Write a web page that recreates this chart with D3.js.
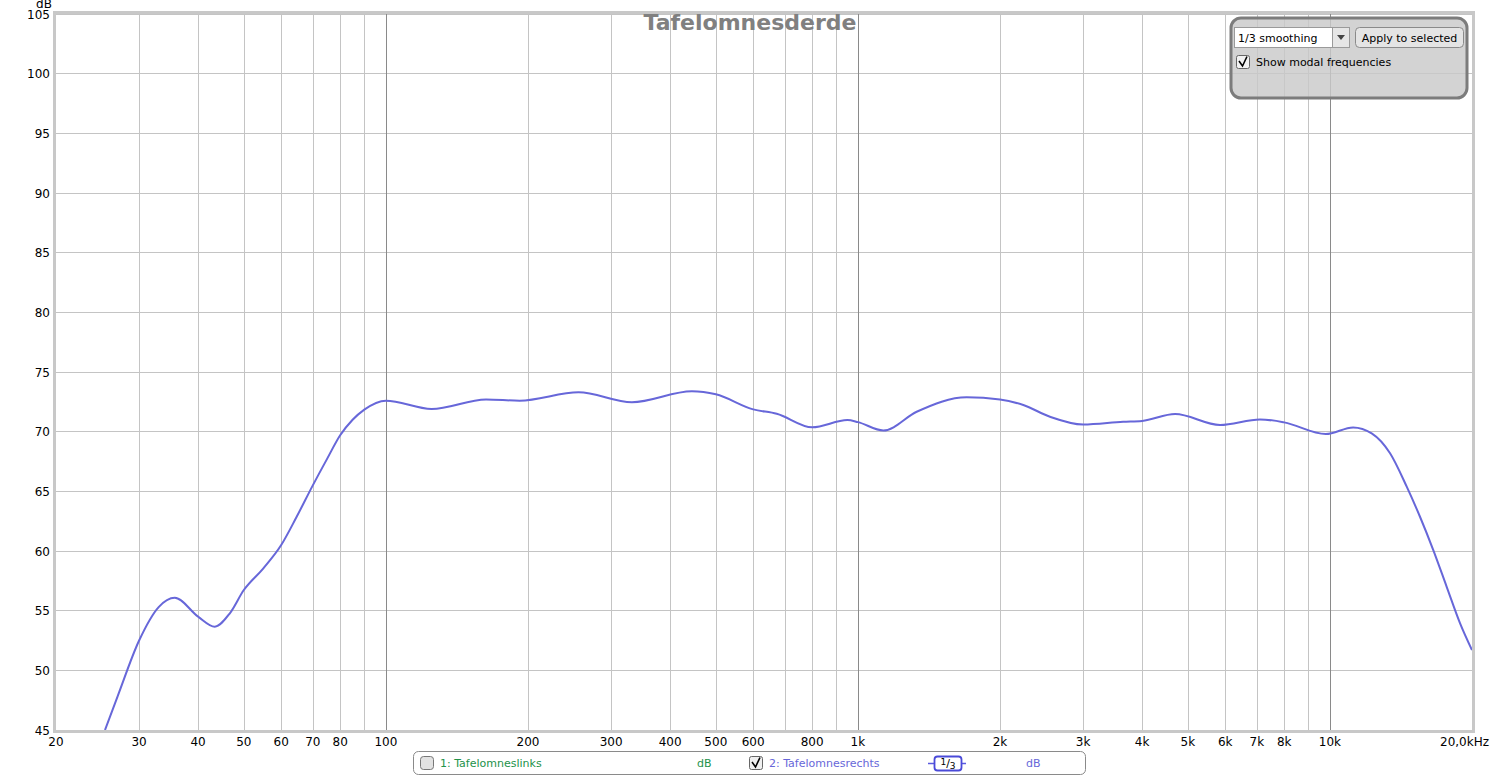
<!DOCTYPE html>
<html><head><meta charset="utf-8">
<script src="https://cdn.jsdelivr.net/npm/d3@7"></script>
<style>
html,body{margin:0;padding:0;background:#fff;}
svg{display:block;font-family:"DejaVu Sans",sans-serif;}
</style></head>
<body>
<svg id="c" width="1500" height="777"></svg>
<script>
// ---- data ----
const freqs = [25.4, 27, 30, 33, 35.7, 40, 43.4, 46.7, 50, 55, 60, 64.7, 70, 75, 80, 85, 90, 100, 125, 163, 192, 256, 332, 445, 500, 600, 673, 800, 950, 1000, 1132, 1332, 1700, 2000, 2241, 2552, 3000, 3648, 4000, 4698, 5850, 7110, 8000, 9800, 11200, 12260, 13410, 14545, 15518, 16558, 17677, 18870, 20000];
const levels = [45.0, 47.8, 52.5, 55.3, 56.08, 54.5, 53.66, 54.78, 56.73, 58.55, 60.5, 62.87, 65.5, 67.7, 69.7, 71.0, 71.85, 72.6, 71.9, 72.7, 72.6, 73.3, 72.46, 73.38, 73.13, 71.87, 71.5, 70.36, 70.97, 70.8, 70.1, 71.67, 72.88, 72.7, 72.23, 71.25, 70.6, 70.83, 70.9, 71.48, 70.56, 71.03, 70.78, 69.8, 70.35, 69.86, 68.19, 65.39, 62.87, 60.08, 57.0, 53.94, 51.7];
const gridFreqs = [30,40,50,60,70,80,90,100,200,300,400,500,600,700,800,900,1000,2000,3000,4000,5000,6000,7000,8000,9000,10000];
const decadeFreqs = [100,1000,10000];
const xTickValues = [20,30,40,50,60,70,80,100,200,300,400,500,600,800,1000,2000,3000,4000,5000,6000,7000,8000,10000,20000];
const xTickLabels = ["20","30","40","50","60","70","80","100","200","300","400","500","600","800","1k","2k","3k","4k","5k","6k","7k","8k","10k","20,0kHz"];
const yTicks = [45,50,55,60,65,70,75,80,85,90,95,100,105];
const title = "Tafelomnesderde";
const series = [
  {name:"1: Tafelomneslinks", unit:"dB", color:"#23924a", checked:false},
  {name:"2: Tafelomnesrechts", unit:"dB", color:"#6767d9", checked:true}
];

// ---- layout ----
const L=56, R=1472, T=14, B=730;
const svg = d3.select("#c");
const x = d3.scaleLog().domain([20,20000]).range([L,R]);
const y = d3.scaleLinear().domain([45,105]).range([B,T]);

// horizontal grid
svg.append("g").selectAll("line").data(yTicks).join("line")
  .attr("x1",L).attr("x2",R).attr("y1",d=>y(d)).attr("y2",d=>y(d))
  .attr("stroke","#c4c4c4").attr("stroke-width",1).attr("shape-rendering","crispEdges");
// vertical grid
svg.append("g").selectAll("line").data(gridFreqs).join("line")
  .attr("x1",d=>Math.round(x(d))+0.5).attr("x2",d=>Math.round(x(d))+0.5).attr("y1",T).attr("y2",B)
  .attr("stroke",d=>decadeFreqs.includes(d)?"#8a8a8a":"#c4c4c4").attr("stroke-width",1);

// title
svg.append("text").attr("x",750).attr("y",30).attr("text-anchor","middle")
  .attr("font-size",22).attr("font-weight","bold").attr("fill","#808080").text(title);

// curve
svg.append("clipPath").attr("id","pc").append("rect")
  .attr("x",L).attr("y",T).attr("width",R-L).attr("height",B-T);
const pts = freqs.map((f,i)=>[f,levels[i]]);
const line = d3.line().x(d=>x(d[0])).y(d=>y(d[1])).curve(d3.curveMonotoneX);
svg.append("path").datum(pts).attr("d",line).attr("fill","none")
  .attr("stroke",series[1].color).attr("stroke-width",2).attr("clip-path","url(#pc)");

// frame
svg.append("rect").attr("x",L-1.5).attr("y",T-1.5).attr("width",R-L+3).attr("height",B-T+3)
  .attr("fill","none").attr("stroke","#c8c8c8").attr("stroke-width",3);

// y axis labels
svg.append("g").selectAll("text").data(yTicks).join("text")
  .attr("x",50).attr("y",d=>y(d)+4.5).attr("text-anchor","end")
  .attr("font-size",12).attr("fill","#000").text(d=>d);
svg.append("text").attr("x",44).attr("y",8).attr("text-anchor","middle")
  .attr("font-size",12).attr("fill","#000").text("dB");

// x axis labels
svg.append("g").selectAll("text").data(xTickValues).join("text")
  .attr("x",(d,i)=> i===xTickValues.length-1 ? 1489 : x(d))
  .attr("y",746)
  .attr("text-anchor",(d,i)=> i===xTickValues.length-1 ? "end" : "middle")
  .attr("font-size",12).attr("fill","#000").text((d,i)=>xTickLabels[i]);

// ---- top-right control panel ----
const p = svg.append("g");
p.append("rect").attr("x",1231).attr("y",18).attr("width",236).attr("height",80).attr("rx",10)
  .attr("fill","#c9c9c9").attr("fill-opacity",0.82).attr("stroke","#7c7c7c").attr("stroke-width",3);
p.append("rect").attr("x",1234.5).attr("y",27.5).attr("width",115).attr("height",20)
  .attr("fill","#fff").attr("stroke","#9a9a9a");
p.append("rect").attr("x",1332.5).attr("y",27.5).attr("width",17).attr("height",20)
  .attr("fill","#e6e6e6").attr("stroke","#9a9a9a");
p.append("path").attr("d","M1337,35 L1345,35 L1341,40 Z").attr("fill","#444");
p.append("text").attr("x",1238).attr("y",41.5).attr("font-size",11).attr("fill","#000").text("1/3 smoothing");
p.append("rect").attr("x",1355.5).attr("y",27.5).attr("width",108).attr("height",20).attr("rx",4)
  .attr("fill","#e4e4e4").attr("stroke","#8a8a8a");
p.append("text").attr("x",1409.5).attr("y",41.5).attr("text-anchor","middle").attr("font-size",11).attr("fill","#000").text("Apply to selected");
p.append("rect").attr("x",1236.5).attr("y",55.5).attr("width",13).attr("height",13).attr("rx",2)
  .attr("fill","#f2f2f2").attr("stroke","#666");
p.append("path").attr("d","M1239,61 L1242.5,66 L1247,56.5").attr("fill","none").attr("stroke","#000").attr("stroke-width",1.6);
p.append("text").attr("x",1256).attr("y",66).attr("font-size",11).attr("fill","#000").text("Show modal frequencies");

// ---- bottom legend ----
const lg = svg.append("g");
lg.append("rect").attr("x",413.5).attr("y",751.5).attr("width",672).attr("height",23).attr("rx",5)
  .attr("fill","#fff").attr("stroke","#8a8a8a");
lg.append("rect").attr("x",420.5).attr("y",756.5).attr("width",13).attr("height",13).attr("rx",3)
  .attr("fill","#e2e2e2").attr("stroke","#777");
lg.append("text").attr("x",440).attr("y",767).attr("font-size",11).attr("fill",series[0].color).text(series[0].name);
lg.append("text").attr("x",697).attr("y",767).attr("font-size",11).attr("fill",series[0].color).text(series[0].unit);
lg.append("rect").attr("x",749.5).attr("y",756.5).attr("width",13).attr("height",13).attr("rx",2)
  .attr("fill","#f0f0f0").attr("stroke","#666");
lg.append("path").attr("d","M752,762 L755.5,767 L760,757.5").attr("fill","none").attr("stroke","#000").attr("stroke-width",1.6);
lg.append("text").attr("x",769).attr("y",767).attr("font-size",11).attr("fill",series[1].color).text(series[1].name);
lg.append("line").attr("x1",928).attr("x2",966).attr("y1",763.5).attr("y2",763.5).attr("stroke","#5a5ae0").attr("stroke-width",1.5);
lg.append("rect").attr("x",934.5).attr("y",756.5).attr("width",27).attr("height",14).attr("rx",3)
  .attr("fill","#fff").attr("stroke","#4a4ad8").attr("stroke-width",1.8);
const fr = lg.append("text").attr("x",948).attr("y",767).attr("text-anchor","middle").attr("font-size",11).attr("fill","#000");
fr.append("tspan").attr("font-size",9).attr("dy",-2).text("1");
fr.append("tspan").attr("dy",2).text("/");
fr.append("tspan").attr("font-size",9).attr("dy",2).text("3");
lg.append("text").attr("x",1026).attr("y",767).attr("font-size",11).attr("fill",series[1].color).text(series[1].unit);
</script>
</body></html>
